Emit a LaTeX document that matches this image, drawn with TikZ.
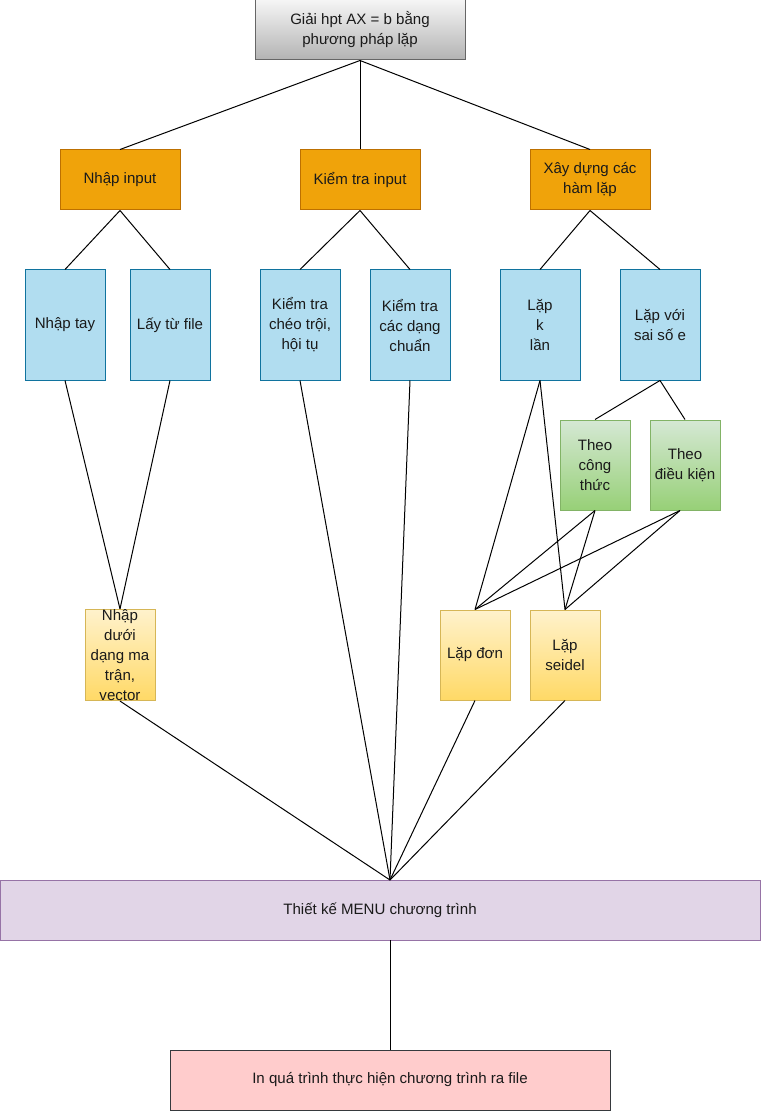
\documentclass[tikz,border=0pt]{standalone}
\usepackage{fontspec}
\setmainfont{Liberation Sans}
\usetikzlibrary{calc}
\definecolor{greyTop}{HTML}{F5F5F5}
\definecolor{greyBot}{HTML}{B3B3B3}
\definecolor{greyLine}{HTML}{666666}
\definecolor{orFill}{HTML}{F0A30A}
\definecolor{orLine}{HTML}{BD7000}
\definecolor{blFill}{HTML}{B1DDF0}
\definecolor{blLine}{HTML}{10739E}
\definecolor{grTop}{HTML}{D5E8D4}
\definecolor{grBot}{HTML}{97D077}
\definecolor{grLine}{HTML}{82B366}
\definecolor{yeTop}{HTML}{FFF2CC}
\definecolor{yeBot}{HTML}{FFD966}
\definecolor{yeLine}{HTML}{D6B656}
\definecolor{puFill}{HTML}{E1D5E7}
\definecolor{puLine}{HTML}{9673A6}
\definecolor{pkFill}{HTML}{FFCCCC}
\definecolor{pkLine}{HTML}{36393D}
\definecolor{txt}{HTML}{1A1A1A}
\begin{document}
\begin{tikzpicture}[x=0.75pt,y=-0.75pt,line width=0.75pt,
  box/.style={rectangle,draw,inner sep=0pt,align=center,text=txt,
    font=\fontsize{11.3}{15}\selectfont},
  rootbox/.style={box,top color=greyTop,bottom color=greyBot,draw=greyLine,
    minimum width=157.5pt,minimum height=45pt},
  taskbox/.style={box,fill=orFill,draw=orLine,minimum width=90pt,minimum height=45pt},
  subbox/.style={box,fill=blFill,draw=blLine,minimum width=60pt,minimum height=82.5pt},
  condbox/.style={box,top color=grTop,bottom color=grBot,draw=grLine,
    minimum width=52.5pt,minimum height=67.5pt},
  leafbox/.style={box,top color=yeTop,bottom color=yeBot,draw=yeLine,
    minimum width=52.5pt,minimum height=67.5pt},
  link/.style={draw=black,line width=0.75pt}]
\useasboundingbox (0,0) rectangle (762,1112);

% root
\node[rootbox] (root) at (360,30) {Giải hpt AX = b bằng\\phương pháp lặp};

% main tasks
\node[taskbox] (input) at (120,180) {Nhập input};
\node[taskbox] (check) at (360,180) {Kiểm tra input};
\node[taskbox] (iter) at (590,180) {Xây dựng các\\hàm lặp};

% sub tasks
\node[subbox] (hand) at (65,325) {Nhập tay};
\node[subbox] (file) at (170,325) {Lấy từ file};
\node[subbox] (dom) at (300,325) {Kiểm tra\\chéo trội,\\hội tụ};
\node[subbox] (norm) at (410,325) {Kiểm tra\\các dạng\\chuẩn};
\node[subbox] (kloop) at (540,325) {Lặp\\k\\lần};
\node[subbox] (eloop) at (660,325) {Lặp với\\sai số e};

% stopping conditions
\node[condbox] (formula) at (595,465) {Theo\\công\\thức};
\node[condbox] (cond) at (685,465) {Theo\\điều kiện};

% leaves
\node[leafbox] (matrix) at (120,655) {Nhập\\dưới\\dạng ma\\trận,\\vector};
\node[leafbox] (jacobi) at (475,655) {Lặp đơn};
\node[leafbox] (seidel) at (565,655) {Lặp\\seidel};

% program
\node[box,fill=puFill,draw=puLine,minimum width=570pt,minimum height=45pt]
  (menu) at (380,910) {Thiết kế MENU chương trình};
\node[box,fill=pkFill,draw=pkLine,minimum width=330pt,minimum height=45pt]
  (out) at (390,1080) {In quá trình thực hiện chương trình ra file};
\coordinate (mtop) at (390,880);
\coordinate (mbot) at (390,940);

% tree links
\draw[link] (root.south) -- (input.north);
\draw[link] (root.south) -- (check.north);
\draw[link] (root.south) -- (iter.north);
\draw[link] (input.south) -- (hand.north);
\draw[link] (input.south) -- (file.north);
\draw[link] (check.south) -- (dom.north);
\draw[link] (check.south) -- (norm.north);
\draw[link] (iter.south) -- (kloop.north);
\draw[link] (iter.south) -- (eloop.north);
\draw[link] (eloop.south) -- (formula.north);
\draw[link] (eloop.south) -- (cond.north);
\draw[link] (hand.south) -- (matrix.north);
\draw[link] (file.south) -- (matrix.north);
\draw[link] (kloop.south) -- (jacobi.north);
\draw[link] (kloop.south) -- (seidel.north);
\draw[link] (formula.south) -- (jacobi.north);
\draw[link] (formula.south) -- (seidel.north);
\draw[link] ([xshift=-3.75pt]cond.south) -- (jacobi.north);
\draw[link] ([xshift=-3.75pt]cond.south) -- (seidel.north);

% into the menu
\draw[link] (matrix.south) -- (mtop);
\draw[link] (dom.south) -- (mtop);
\draw[link] (norm.south) -- (mtop);
\draw[link] (jacobi.south) -- (mtop);
\draw[link] (seidel.south) -- (mtop);
\draw[link] (mbot) -- (out.north);
\end{tikzpicture}
\end{document}
